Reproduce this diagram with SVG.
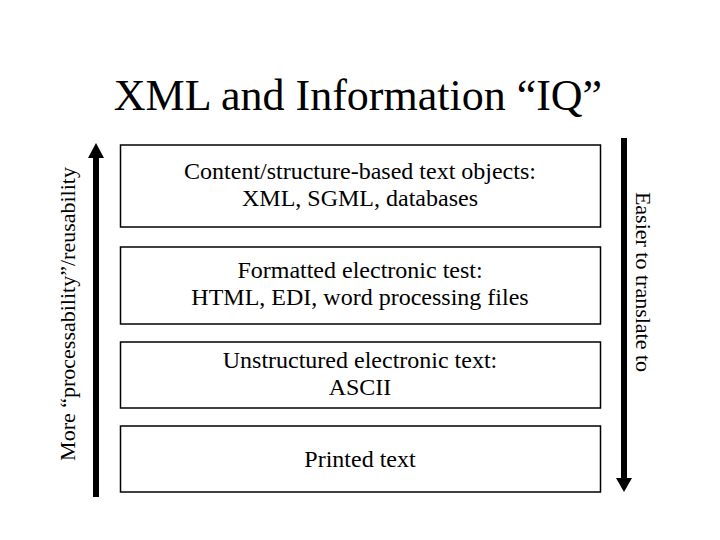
<svg xmlns="http://www.w3.org/2000/svg" width="720" height="540" viewBox="0 0 720 540">
<style>
text{font-family:"Liberation Serif","Times New Roman",serif;fill:#000}
.t{font-size:24px;text-anchor:middle}
.box{fill:#fff;stroke:#000;stroke-width:1.5}
.side{font-size:22px;text-anchor:middle}
</style>
<rect width="720" height="540" fill="#fff"/>
<text x="358" y="110" style="font-size:44px;text-anchor:middle">XML and Information “IQ”</text>
<g id="box1"><rect class="box" x="120.5" y="145" width="480" height="82"/>
<text class="t" x="360" y="179">Content/structure-based text objects:</text>
<text class="t" x="360" y="206">XML, SGML, databases</text></g>
<g id="box2"><rect class="box" x="120.5" y="247" width="480" height="77"/>
<text class="t" x="360" y="278">Formatted electronic test:</text>
<text class="t" x="360" y="305">HTML, EDI, word processing files</text></g>
<g id="box3"><rect class="box" x="120.5" y="342" width="480" height="66"/>
<text class="t" x="360" y="368">Unstructured electronic text:</text>
<text class="t" x="360" y="395">ASCII</text></g>
<g id="box4"><rect class="box" x="120.5" y="426" width="480" height="66"/>
<text class="t" x="360" y="467">Printed text</text></g>
<g id="connectors">
<rect x="93" y="156" width="6" height="341" fill="#000"/>
<polygon points="96,143 104,158 88,158" fill="#000"/>
<rect x="621" y="138" width="6" height="342" fill="#000"/>
<polygon points="616,478 632,478 624,492" fill="#000"/>
</g>
<g id="labels">
<text class="side" transform="translate(75,314) rotate(-90)">More “processability”/reusability</text>
<text class="side" transform="translate(636,282) rotate(90)">Easier to translate to</text>
</g>
</svg>
